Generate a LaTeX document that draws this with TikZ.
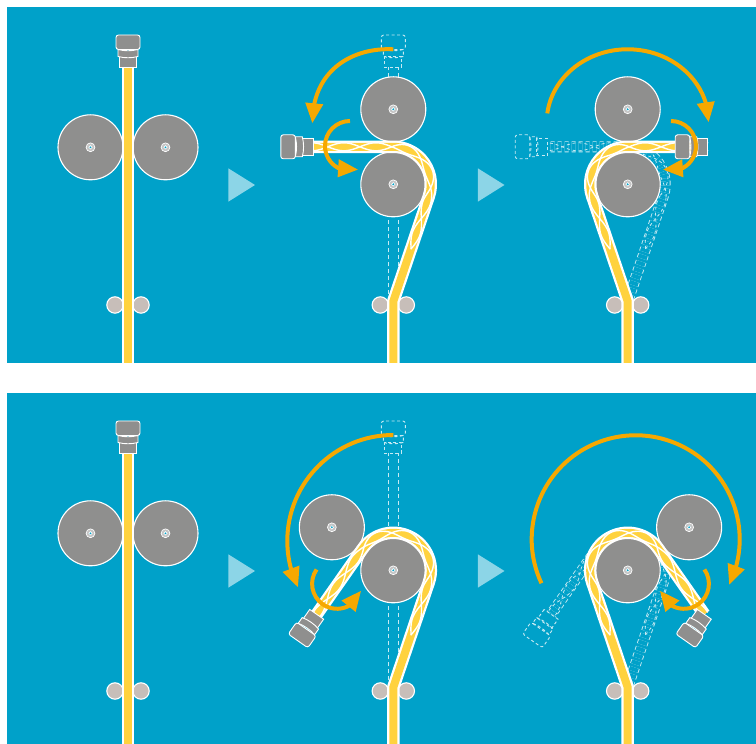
\documentclass[tikz,border=0pt]{standalone}
\usetikzlibrary{arrows.meta,bending}

\definecolor{panelblue}{RGB}{0,161,201}
\definecolor{rollergray}{RGB}{143,143,142}
\definecolor{hubgray}{RGB}{196,196,196}
\definecolor{guidegray}{RGB}{199,190,185}
\definecolor{wireyellow}{RGB}{255,210,62}
\definecolor{turnorange}{RGB}{246,168,0}
\colorlet{ghostline}{white!78!panelblue}
\colorlet{stagemark}{white!55!panelblue}

\tikzset{
  roller/.style={fill=rollergray, draw=white, line width=1.1pt},
  hubring/.style={fill=hubgray, draw=white, line width=0.7pt},
  hubdot/.style={fill=panelblue, draw=white, line width=0.6pt},
  guide/.style={fill=guidegray, draw=white, line width=1.1pt},
  wireedge/.style={draw=white, line width=12.5pt, line join=round},
  wirecore/.style={draw=wireyellow, line width=8pt, line join=round},
  twist/.style={draw=white, line width=1.4pt, line cap=round},
  ghostwire/.style={draw=ghostline, line width=0.9pt, double=panelblue,
    double distance=9.2pt, dash pattern=on 4pt off 3pt},
  ghosttwist/.style={draw=ghostline, line width=0.8pt, dash pattern=on 3pt off 3pt},
  ghostoutline/.style={draw=ghostline, line width=0.9pt, dash pattern=on 3pt off 2.5pt},
  plugpart/.style={fill=rollergray, draw=white, line width=0.9pt},
  turn/.style={draw=turnorange, line width=4pt, -{Triangle[length=20pt,width=17pt]}},
  stagearrow/.style={fill=stagemark},
}

% plug body: neck, ring, cap; the wire leaves at (0,0), the plug runs along +x
\newcommand\plugshape[1]{%
  \path[#1] (0,-8.5) -- (11,-8.5) -- (11,8.5) -- (0,8.5) -- cycle;
  \path[#1] (11,-10) .. controls (9.3,-4) and (9.3,4) .. (11,10) -- (18,10)
        .. controls (16.3,4) and (16.3,-4) .. (18,-10) -- cycle;
  \path[#1, rounded corners=2.5pt] (18,-12) rectangle (32.5,12);
}
\tikzset{
  pics/plug/.style={code={\plugshape{plugpart}}},
  pics/ghostplug/.style={code={\plugshape{ghostoutline}}},
}

\newcommand\bigroller[1]{%
  \path[roller] #1 circle[radius=32.5];
  \path[hubring] #1 circle[radius=4.4];
  \path[hubdot] #1 circle[radius=1.7];
}
\newcommand\guidepair{%
  \path[guide] (-13,-120.7) circle[radius=8.2];
  \path[guide] (13,-120.7) circle[radius=8.2];
}

% wire from below, round the right side of the main roller, leaving at
% the angle #2 (90 = over the top, 145 = further round)
\newcommand\wirepath[2]{\path[#1] (0,-240) -- (0,-117) -- (35.56,-11.92)
  arc[start angle=-18.53, end angle=#2, radius=37.5]
  -- ++({-80*sin(#2)},{80*cos(#2)});}

% one strand of the twist drawn inside the wire: #1 style, #2 exit angle, #3 phase
% (one full twist every 64pt of wire)
\newcommand\twistline[3]{%
  \path[#1] plot[domain=0:55.5, samples=24]
    ({17.8+0.3200*\x-0.9474*4*sin(5.625*\x+#3)},
     {-64.5+0.9474*\x+0.3200*4*sin(5.625*\x+#3)});
  \path[#1] plot[domain=-18.53:#2, samples=50]
    ({(37.5-4*sin(5.625*(55.5+(\x+18.53)*0.65450)+#3))*cos(\x)},
     {(37.5-4*sin(5.625*(55.5+(\x+18.53)*0.65450)+#3))*sin(\x)});
  \path[#1] plot[domain=0:80, samples=36]
    ({(37.5-4*sin(5.625*(55.5+(#2+18.53)*0.65450+\x)+#3))*cos(#2)-\x*sin(#2)},
     {(37.5-4*sin(5.625*(55.5+(#2+18.53)*0.65450+\x)+#3))*sin(#2)+\x*cos(#2)});
}
\newcommand\twistedwire[1]{%
  \wirepath{wireedge}{#1} \wirepath{wirecore}{#1}
  \twistline{twist}{#1}{0} \twistline{twist}{#1}{180}
}
\newcommand\ghostedwire[1]{%
  \wirepath{ghostwire}{#1}
  \twistline{ghosttwist}{#1}{0} \twistline{ghosttwist}{#1}{180}
}

\begin{document}
\begin{tikzpicture}[x=1pt,y=1pt]
\useasboundingbox (0,0) rectangle (756,744);
\fill[white] (0,0) rectangle (756,744);
\fill[panelblue] (7,381) rectangle (756,737);
\fill[panelblue] (7,0) rectangle (756,351);

% stage markers
\foreach \dy in {0,-386} {
  \foreach \dx in {0,249.5} {
    \begin{scope}[shift={(\dx,\dy)}]
      \path[stagearrow] (228.3,575.7) -- (228.3,542.3) -- (255,559) -- cycle;
    \end{scope}
  }
}

% ---------------- upper row ----------------
\begin{scope}
\clip (7,381) rectangle (756,737);

% straight wire between two rollers
\begin{scope}[shift={(128,559.7)}]
  \bigroller{(-37.5,37)} \bigroller{(37.5,37)}
  \guidepair
  \path[wireedge] (0,-240) -- (0,116.8);
  \path[wirecore] (0,-240) -- (0,116.8);
  \path (0,116.8) pic[rotate=90] {plug};
\end{scope}

% plug turned to the left
\begin{scope}[shift={(393.3,559.7)}]
  \path[ghostwire] (0,-117) -- (0,116.8);
  \path (0,116.8) pic[rotate=90] {ghostplug};
  \bigroller{(0,75)} \bigroller{(0,0)}
  \guidepair
  \twistedwire{90}
  \path (-80,37.5) pic[rotate=180] {plug};
  \path[turn] (0,135) .. controls (-40,137) and (-81,115) .. (-81,61);
  \path[turn] (-43.3,63.3) arc[start angle=90, end angle=289, radius=25];
\end{scope}

% plug swung over to the right
\begin{scope}[shift={(627.7,559.7)}]
  \ghostedwire{90}
  \path (-80,37.5) pic[rotate=180] {ghostplug};
  \bigroller{(0,75)} \bigroller{(0,0)}
  \guidepair
  \begin{scope}[xscale=-1]
    \twistedwire{90}
    \path (-80,37.5) pic[rotate=180] {plug};
    \path[turn] (-43.3,63.3) arc[start angle=90, end angle=289, radius=25];
  \end{scope}
  \path[turn] (-80.4,70.9) arc[start angle=173, end angle=0, x radius=81, y radius=73];
\end{scope}
\end{scope}

% ---------------- lower row ----------------
\begin{scope}
\clip (7,0) rectangle (756,351);

\begin{scope}[shift={(128,173.7)}]
  \bigroller{(-37.5,37)} \bigroller{(37.5,37)}
  \guidepair
  \path[wireedge] (0,-240) -- (0,116.8);
  \path[wirecore] (0,-240) -- (0,116.8);
  \path (0,116.8) pic[rotate=90] {plug};
\end{scope}

\begin{scope}[shift={(393.3,173.7)}]
  \path[ghostwire] (0,-117) -- (0,116.8);
  \path (0,116.8) pic[rotate=90] {ghostplug};
  \bigroller{(-61.44,43.02)} \bigroller{(0,0)}
  \guidepair
  \twistedwire{145}
  \path (-76.61,-44.02) pic[rotate=235] {plug};
  \path[turn] (0,135.3) arc[start angle=90, end angle=206, radius=106];
  \begin{scope}[rotate=55]
    \path[turn] (-43.3,63.3) arc[start angle=90, end angle=289, radius=25];
  \end{scope}
\end{scope}

\begin{scope}[shift={(627.7,173.7)}]
  \ghostedwire{145}
  \path (-76.61,-44.02) pic[rotate=235] {ghostplug};
  \bigroller{(61.44,43.02)} \bigroller{(0,0)}
  \guidepair
  \begin{scope}[xscale=-1]
    \twistedwire{145}
    \path (-76.61,-44.02) pic[rotate=235] {plug};
    \begin{scope}[rotate=55]
      \path[turn] (-43.3,63.3) arc[start angle=90, end angle=289, radius=25];
    \end{scope}
  \end{scope}
  \path[turn] (-86.26,-12.95) arc[start angle=205, end angle=-26, radius=104];
\end{scope}
\end{scope}

\end{tikzpicture}
\end{document}
